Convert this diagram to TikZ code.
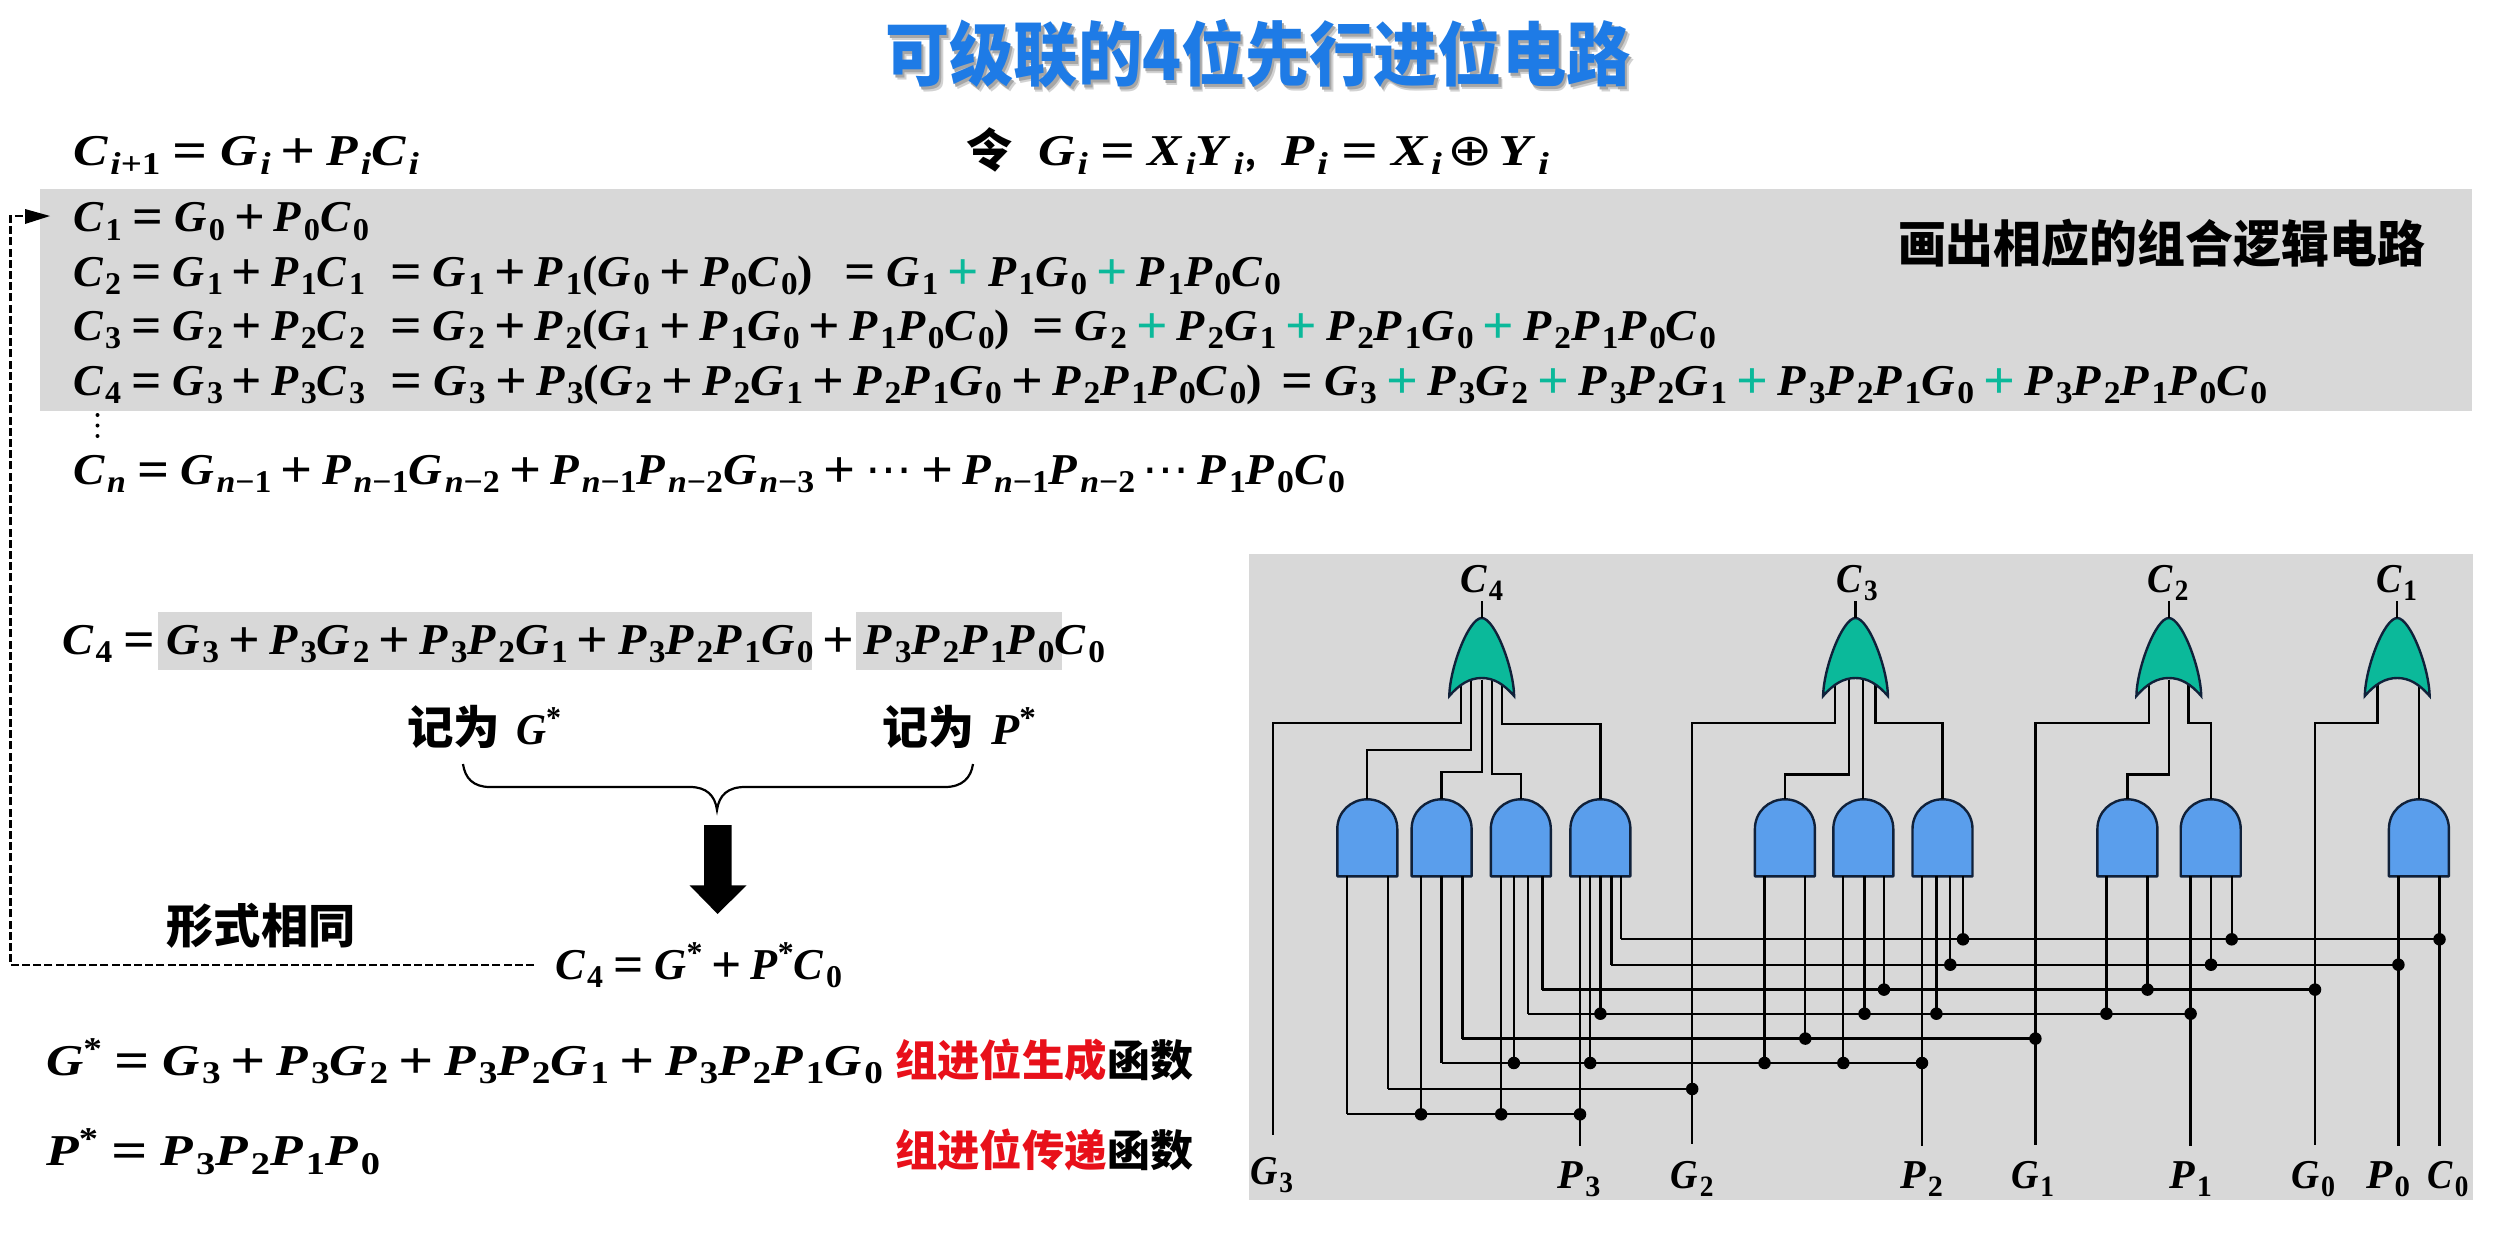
\documentclass[tikz,border=0pt]{standalone}
\usepackage{fontspec}
\setmainfont{Liberation Serif}
\newfontfamily\cjk{Noto Sans CJK SC}
\newfontfamily\sym{DejaVu Sans}
\definecolor{band}{HTML}{D8D8D8}
\definecolor{andfill}{HTML}{5A9EEC}
\definecolor{orfill}{HTML}{0BB99A}
\definecolor{gateline}{HTML}{10213A}
\definecolor{titleblue}{HTML}{1E7BE6}
\definecolor{redtxt}{HTML}{E8101A}
\newcounter{dotc}
\newcommand\sbx[1]{\raisebox{-.2em}{\scalebox{.72}{#1}}}
\newcommand\spx{\raisebox{.36em}{\scalebox{.72}{*}}}
\newcommand\V[2]{\textit{#1}\kern.05em\sbx{#2}}
\newcommand\gG[1]{\V{G}{#1}}
\newcommand\pP[1]{\V{P}{#1}}
\newcommand\cC[1]{\V{C}{#1}}
\newcommand\xX[1]{\V{X}{#1}}
\newcommand\yY[1]{\V{Y}{#1}}
\newcommand\ii{\textit{i}}
\newcommand\nn{\textit{n}}
\newcommand\bigop[1]{\raisebox{-.07em}{\scalebox{1.2}{#1}}}
\newcommand\eqs{\hspace{.24em}\bigop{=}\hspace{.24em}}
\newcommand\eqt{\bigop{=}\hspace{.24em}}
\newcommand\pl{\hspace{.2em}\bigop{+}\hspace{.2em}}
\newcommand\gp{\hspace{.2em}{\color{orfill}\bigop{+}}\hspace{.2em}}
\newcommand\fml[5]{\node[mathtxt] (#1) at (#2,#3) {\resizebox{#4pt}{\height}{#5}};}
\newcommand\fmls[5]{\node[mathtxt,font=\fontsize{41}{41}\selectfont\bfseries] (#1) at (#2,#3) {\resizebox{#4pt}{\height}{#5}};}
\newcommand\hz[6]{\node[hantxt,font=\cjk\bfseries\fontsize{#5}{#5}\selectfont] (#1) at (#2,#3) {\resizebox{#4pt}{\height}{#6}};}
\newcommand\ttxt{可级联的4位先行进位电路}
\newcommand\andg[2]{%
  \node[gatebox] (#1) at (#2,837.8) {};
  \draw[andshape] (#2-30,876.3) -- (#2-30,829) .. controls (#2-30,812) and (#2-16.5,799.3) .. (#2,799.3)
    .. controls (#2+16.5,799.3) and (#2+30,812) .. (#2+30,829) -- (#2+30,876.3) -- cycle;}
\newcommand\orbox[2]{\node[orbx] (#1) at (#2,649) {};}
\newcommand\orsh[1]{%
  \draw[orshape] (#1-32.4,696) .. controls (#1-32,668) and (#1-13,618) .. (#1,618)
    .. controls (#1+13,618) and (#1+32,668) .. (#1+32.4,696)
    .. controls (#1+22,684) and (#1+12,678) .. (#1,678)
    .. controls (#1-12,678) and (#1-22,684) .. (#1-32.4,696) -- cycle;}
% input wire from gate #1 at x #2 down to level of coordinate #3
\newcommand\inp[3]{\coordinate (pp) at (#2,900); \draw[wire] (#1.south -| pp) -- (pp |- #3);}
% junction dot
\newcommand\jn[2]{\stepcounter{dotc}\coordinate (pp) at (#1,900); \node[jdot] (dot\thedotc) at (pp |- #2) {};}
% output wire from OR pin x #1, bend y #2, to target #3
\newcommand\toor[3]{\coordinate (pp) at (#1,680); \coordinate (kk) at (#1,#2); \draw[wire] (pp) -- (kk) -- (kk -| #3) -- (#3);}
\tikzset{
  mathtxt/.style={inner sep=0pt,outer sep=0pt,anchor=base west,font=\fontsize{44}{44}\selectfont\bfseries},
  hantxt/.style={inner sep=0pt,outer sep=0pt,anchor=west},
  wire/.style={draw=black,line width=2.3pt},
  gatebox/.style={inner sep=0pt,outer sep=0pt,minimum width=60pt,minimum height=77pt},
  orbx/.style={inner sep=0pt,outer sep=0pt,minimum width=64pt,minimum height=62pt},
  andshape/.style={fill=andfill,draw=gateline,line width=2.4pt,line join=round},
  orshape/.style={fill=orfill,draw=gateline,line width=2.4pt,line join=miter},
  jdot/.style={circle,fill=black,inner sep=0pt,minimum size=12.5pt},
  dashline/.style={line width=2.2pt,dash pattern=on 8pt off 3.2pt}
}
\begin{document}
\begin{tikzpicture}[x=1pt,y=-1pt]
\useasboundingbox (0,0) rectangle (2504,1236);
\fill[white] (0,0) rectangle (2504,1236);
% panels
\fill[band] (40,189) rectangle (2472,411);
\fill[band] (1249,553.5) rectangle (2473,1199.5);
\fill[band] (158,612) rectangle (812,670);
\fill[band] (856,612) rectangle (1062,670);
% title with its soft shadow
\node[hantxt,anchor=center,font=\cjk\bfseries\fontsize{70}{70}\selectfont] (title) at (1258,56) {\resizebox{745pt}{\height}{\rlap{\kern4pt\raisebox{-5pt}{\color{gray!35}\ttxt}}\rlap{\kern2.5pt\raisebox{-3pt}{\color{gray!70}\ttxt}}{\color{titleblue}\ttxt}}};
% top formulas
\fml{f0}{73}{165.7}{346}{\V{C}{\ii+1}\eqs\gG{\ii}\pl\pP{\ii}\cC{\ii}}
\hz{ling}{966}{150}{46}{46}{令}
\fml{f0a}{1038}{165.7}{206}{\gG{\ii}\eqs\xX{\ii}\yY{\ii}}
\node[mathtxt,font=\cjk\bfseries\fontsize{30}{30}\selectfont] (comma) at (1245,165.7) {,};
\fml{f0b}{1281}{165.7}{268}{\pP{\ii}\eqs\xX{\ii}\hspace{.1em}{\sym\mdseries ⊕}\hspace{.1em}\yY{\ii}}
\fml{f1}{73}{231.7}{296}{\cC{1}\eqs\gG{0}\pl\pP{0}\cC{0}}
\fml{f2a}{73}{286}{292}{\cC{2}\eqs\gG{1}\pl\pP{1}\cC{1}}
\fml{f2b}{390}{286}{423}{\eqt\gG{1}\pl\pP{1}(\gG{0}\pl\pP{0}\cC{0})}
\fml{f2c}{844}{286}{437}{\eqt\gG{1}\gp\pP{1}\gG{0}\gp\pP{1}\pP{0}\cC{0}}
\fml{f3a}{73}{340}{292}{\cC{3}\eqs\gG{2}\pl\pP{2}\cC{2}}
\fml{f3b}{390}{340}{620}{\eqt\gG{2}\pl\pP{2}(\gG{1}\pl\pP{1}\gG{0}\pl\pP{1}\pP{0}\cC{0})}
\fml{f3c}{1032}{340}{684}{\eqt\gG{2}\gp\pP{2}\gG{1}\gp\pP{2}\pP{1}\gG{0}\gp\pP{2}\pP{1}\pP{0}\cC{0}}
\fml{f4a}{73}{395}{292}{\cC{4}\eqs\gG{3}\pl\pP{3}\cC{3}}
\fml{f4b}{390}{395}{872}{\eqt\gG{3}\pl\pP{3}(\gG{2}\pl\pP{2}\gG{1}\pl\pP{2}\pP{1}\gG{0}\pl\pP{2}\pP{1}\pP{0}\cC{0})}
\fml{f4c}{1281}{395}{986}{\eqt\gG{3}\gp\pP{3}\gG{2}\gp\pP{3}\pP{2}\gG{1}\gp\pP{3}\pP{2}\pP{1}\gG{0}\gp\pP{3}\pP{2}\pP{1}\pP{0}\cC{0}}
\fill (97.5,415) circle (2pt) (97.5,425.5) circle (2pt) (97.5,436) circle (2pt);
\fml{fn}{73}{484}{1272}{\cC{\nn}\eqs\V{G}{\nn−1}\pl\V{P}{\nn−1}\V{G}{\nn−2}\pl\V{P}{\nn−1}\V{P}{\nn−2}\V{G}{\nn−3}\pl{\sym\mdseries ⋯}\pl\V{P}{\nn−1}\V{P}{\nn−2}\,{\sym\mdseries ⋯}\,\pP{1}\pP{0}\cC{0}}
\hz{hint}{1898}{243}{527}{50}{画出相应的组合逻辑电路}
% C4 decomposition
\fml{g1}{62}{654}{1043}{\cC{4}\eqs\gG{3}\pl\pP{3}\gG{2}\pl\pP{3}\pP{2}\gG{1}\pl\pP{3}\pP{2}\pP{1}\gG{0}\pl\pP{3}\pP{2}\pP{1}\pP{0}\cC{0}}
\hz{ja}{407}{727}{93}{46}{记为}
\fml{jb}{516}{744}{45}{\textit{G}\spx}
\hz{jc}{882}{727}{92}{46}{记为}
\fml{jd}{991}{744}{45}{\textit{P}\spx}
\draw[line width=2.2pt] (463,764) .. controls (465,778) and (473,787) .. (490,787) -- (690,787)
  .. controls (706,787) and (715,795) .. (717,810) .. controls (719,795) and (728,787) .. (745,787)
  -- (945,787) .. controls (962,787) and (971,778) .. (973,764);
\fill (704,825) -- (731.5,825) -- (731.5,885.4) -- (746.5,885.4) -- (717.6,914) -- (689.6,885.4) -- (704,885.4) -- cycle;
\hz{same}{166.5}{926}{189}{47}{形式相同}
\fml{g2}{555}{979}{287}{\cC{4}\eqs\textit{G}\spx\pl\textit{P}\spx\cC{0}}
\coordinate (dashup) at (10.5,216);
\draw[dashline] (534,965) -- (10.5,965) -- (dashup) -- (28,216);
\fill (25,209) -- (50,216) -- (25,224) -- cycle;
\fml{g3}{46}{1075}{837}{\textit{G}\spx\eqs\gG{3}\pl\pP{3}\gG{2}\pl\pP{3}\pP{2}\gG{1}\pl\pP{3}\pP{2}\pP{1}\gG{0}}
\hz{g3r}{895}{1060}{212}{43}{\color{redtxt}组进位生成}
\hz{g3k}{1107}{1060}{86}{43}{函数}
\fml{g4}{46}{1165.5}{334}{\textit{P}\spx\eqs\pP{3}\pP{2}\pP{1}\pP{0}}
\hz{g4r}{895}{1150}{212}{43}{\color{redtxt}组进位传递}
\hz{g4k}{1107}{1150}{86}{43}{函数}
% circuit: gates
\andg{A1}{1367.3}\andg{A2}{1441.6}\andg{A3}{1520.8}\andg{A4}{1600.4}
\andg{A5}{1784.9}\andg{A6}{1863.3}\andg{A7}{1942.5}
\andg{A8}{2127.4}\andg{A9}{2210.7}\andg{A10}{2418.9}
\orbox{Og4}{1481.7}\orbox{Og3}{1855.5}\orbox{Og2}{2168.8}\orbox{Og1}{2397.2}
% buses and input ends
\coordinate (bus1) at (2000,939.3);
\coordinate (bus2) at (2000,964.7);
\coordinate (bus3) at (2000,989.6);
\coordinate (bus4) at (2000,1013.7);
\coordinate (bus5) at (2000,1038.6);
\coordinate (bus6) at (2000,1063);
\coordinate (bus7) at (2000,1089);
\coordinate (bus8) at (2000,1114.3);
\coordinate (eG3) at (1272.7,1135);
\coordinate (eP3) at (1580,1146);
\coordinate (eG2) at (1692.2,1144);
\coordinate (eP2) at (1922,1146);
\coordinate (eG1) at (2035.4,1145);
\coordinate (eP1) at (2190.6,1146);
\coordinate (eG0) at (2315,1145);
\coordinate (eP0) at (2398.4,1146);
\coordinate (eC0) at (2439.5,1146);
% bus runs
\coordinate (s) at (1620.8,900); \draw[wire] (s |- bus1) -- (eC0 |- bus1);
\coordinate (s) at (1611.4,900); \draw[wire] (s |- bus2) -- (eP0 |- bus2);
\coordinate (s) at (1542.4,900); \draw[wire] (s |- bus3) -- (eG0 |- bus3);
\coordinate (s) at (1527.8,900); \draw[wire] (s |- bus4) -- (eP1 |- bus4);
\coordinate (s) at (1462.4,900); \draw[wire] (s |- bus5) -- (eG1 |- bus5);
\coordinate (s) at (1441.6,900); \draw[wire] (s |- bus6) -- (eP2 |- bus6);
\coordinate (s) at (1387.8,900); \draw[wire] (s |- bus7) -- (eG2 |- bus7);
\coordinate (s) at (1347,900); \draw[wire] (s |- bus8) -- (eP3 |- bus8);
% gate inputs
\inp{A1}{1347}{bus8}\inp{A1}{1387.8}{bus7}
\inp{A2}{1421}{bus8}\inp{A2}{1441.6}{bus6}\inp{A2}{1462.4}{bus5}
\inp{A3}{1501.2}{bus8}\inp{A3}{1513.9}{bus6}\inp{A3}{1527.8}{bus4}\inp{A3}{1542.4}{bus3}
\inp{A4}{1580}{eP3}\inp{A4}{1590.2}{bus6}\inp{A4}{1600.4}{bus4}\inp{A4}{1611.4}{bus2}\inp{A4}{1620.8}{bus1}
\inp{A5}{1764.5}{bus6}\inp{A5}{1805.3}{bus5}
\inp{A6}{1843.3}{bus6}\inp{A6}{1864.5}{bus4}\inp{A6}{1884}{bus3}
\inp{A7}{1922}{eP2}\inp{A7}{1936.4}{bus4}\inp{A7}{1950.3}{bus2}\inp{A7}{1963}{bus1}
\inp{A8}{2106.4}{bus4}\inp{A8}{2147.5}{bus3}
\inp{A9}{2190.6}{eP1}\inp{A9}{2211}{bus2}\inp{A9}{2231.7}{bus1}
\inp{A10}{2398.4}{eP0}\inp{A10}{2439.5}{eC0}
% OR gate inputs
\toor{1461}{723.3}{eG3}
\toor{1471}{750}{A1.north}
\toor{1481.7}{772.3}{A2.north}
\toor{1492}{774}{A3.north}
\toor{1502}{724.3}{A4.north}
\toor{1835}{723.3}{eG2}
\toor{1849}{774.4}{A5.north}
\draw[wire] (Og3.south -| A6.north) -- (A6.north);
\toor{1875.6}{723.3}{A7.north}
\toor{2148.7}{723.3}{eG1}
\toor{2168.8}{774.4}{A8.north}
\toor{2188.5}{723.3}{A9.north}
\toor{2377.5}{723.3}{eG0}
\draw[wire] (Og1.south -| A10.north) -- (A10.north);
% junctions
\jn{1963}{bus1}\jn{2231.7}{bus1}\jn{2439.5}{bus1}
\jn{1950.3}{bus2}\jn{2211}{bus2}\jn{2398.4}{bus2}
\jn{1884}{bus3}\jn{2147.5}{bus3}\jn{2315}{bus3}
\jn{1600.4}{bus4}\jn{1864.5}{bus4}\jn{1936.4}{bus4}\jn{2106.4}{bus4}\jn{2190.6}{bus4}
\jn{1805.3}{bus5}\jn{2035.4}{bus5}
\jn{1513.9}{bus6}\jn{1590.2}{bus6}\jn{1764.5}{bus6}\jn{1843.3}{bus6}\jn{1922}{bus6}
\jn{1692.2}{bus7}
\jn{1421}{bus8}\jn{1501.2}{bus8}\jn{1580}{bus8}
% OR shapes on top of their inputs
\orsh{1481.7}\orsh{1855.5}\orsh{2168.8}\orsh{2397.2}
% circuit labels
\fmls{lC4}{1460}{592.5}{43}{\cC{4}}
\fmls{lC3}{1836.7}{592.5}{41}{\cC{3}}
\fmls{lC2}{2147.5}{592.5}{41}{\cC{2}}
\fmls{lC1}{2376}{592.5}{41}{\cC{1}}
\draw[wire] (Og4.north) -- (lC4.south -| Og4.north);
\draw[wire] (Og3.north) -- (lC3.south -| Og3.north);
\draw[wire] (Og2.north) -- (lC2.south -| Og2.north);
\draw[wire] (Og1.north) -- (lC1.south -| Og1.north);
\fmls{lG3}{1250}{1184}{43}{\gG{3}}
\fmls{lP3}{1557.5}{1188}{43}{\pP{3}}
\fmls{lG2}{1670.6}{1188}{43}{\gG{2}}
\fmls{lP2}{1900}{1188}{43}{\pP{2}}
\fmls{lG1}{2011}{1188}{43}{\gG{1}}
\fmls{lP1}{2169}{1188}{43}{\pP{1}}
\fmls{lG0}{2291}{1188}{44}{\gG{0}}
\fmls{lP0}{2366}{1188}{44}{\pP{0}}
\fmls{lC0}{2427.5}{1188}{41}{\cC{0}}
\end{tikzpicture}
\end{document}
